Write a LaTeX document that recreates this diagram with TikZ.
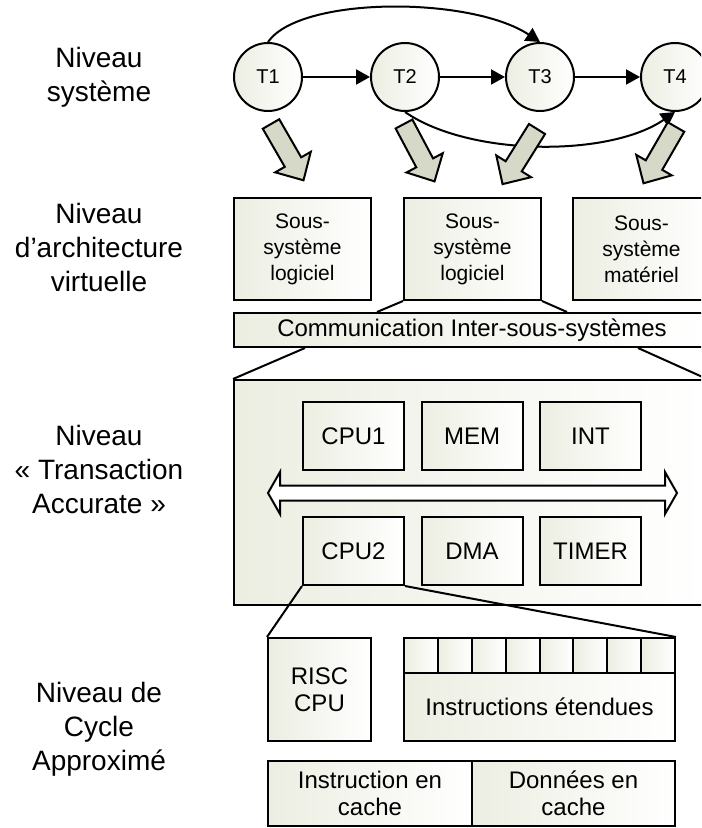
\documentclass[tikz,border=0pt]{standalone}
\usepackage{fontspec}
\setmainfont{Liberation Sans}
\usetikzlibrary{arrows.meta,positioning}

\definecolor{boxgreen}{RGB}{236,238,226}
\definecolor{arrowgray}{RGB}{214,217,199}

\tikzset{
    blk/.style={draw,line width=1pt,left color=boxgreen,right color=white,inner sep=0pt,align=center,font=\fontsize{12}{13.5}\selectfont},
    subsys/.style={blk,minimum width=68.5pt,minimum height=51pt,font=\fontsize{10.5}{13}\selectfont},
    comp/.style={blk,minimum width=50.5pt,minimum height=34pt},
    task/.style={circle,draw,line width=1pt,left color=boxgreen,right color=white,minimum size=34pt,inner sep=0pt,font=\fontsize{10}{12}\selectfont},
    lvl/.style={align=center,font=\fontsize{14}{17}\selectfont},
    conn/.style={line width=1pt,-{Triangle[length=7pt,width=7.5pt]}},
    bigarr/.style={draw,line width=1pt,fill=arrowgray,line join=miter},
}

% fat arrow: tail x, tail y, angle
\newcommand{\bigarrow}[3]{%
    \draw[bigarr,shift={(#1,#2)},rotate=#3] (0,-9.5) -- (44,-9.5) -- (44,-20.5) -- (65,0)
        -- (44,20.5) -- (44,9.5) -- (0,9.5) -- cycle;}

\begin{document}
\begin{tikzpicture}[x=0.5pt,y=-0.5pt]
    \useasboundingbox (0,0) rectangle (701,828);
    \clip (0,0) rectangle (701,828);

    % level names
    \node[lvl] (lv1) at (99,77) {Niveau\\système};
    \node[lvl] (lv2) at (99,247) {Niveau\\d’architecture\\virtuelle};
    \node[lvl] (lv3) at (99,469) {Niveau\\« Transaction\\Accurate »};
    \node[lvl] (lv4) at (99,729) {Niveau de\\Cycle\\Approximé};

    % system level
    \node[task] (T1) at (268,77) {T1};
    \node[task] (T2) at (405,77) {T2};
    \node[task] (T3) at (540,77) {T3};
    \node[task] (T4) at (675,77) {T4};

    \draw[conn] (T1) -- (T2);
    \draw[conn] (T2) -- (T3);
    \draw[conn] (T3) -- (T4);
    \draw[conn] (T1.north) .. controls (300,-4) and (470,-4) .. (T3.north);
    \draw[conn] (T2.south) .. controls (470,157) and (610,157) .. (T4.south);

    \bigarrow{271}{124}{-60}
    \bigarrow{404}{124}{-62}
    \bigarrow{537}{129}{-122}
    \bigarrow{676}{127}{-120}

    % virtual architecture level
    \node[subsys] (sysA) at (302.5,249) {Sous-\\système\\logiciel};
    \node[subsys] (sysB) at (472.5,249) {Sous-\\système\\logiciel};
    \node[subsys] (sysC) at (641.5,249) {Sous-\\système\\matériel};
    \node[blk,minimum width=238pt,minimum height=17pt] (comm) at (472,330) {Communication Inter-sous-systèmes};

    \draw[line width=1pt] (sysB.south west) -- (377,0 |- comm.north);
    \draw[line width=1pt] (sysB.south east) -- (567,0 |- comm.north);

    % transaction accurate level
    \node[blk,minimum width=236pt,minimum height=112.5pt] (ta) at (470,492.5) {};
    \draw[line width=1pt] (305,0 |- comm.south) -- (ta.north west);
    \draw[line width=1pt] (638,0 |- comm.south) -- (ta.north east);

    \node[comp] (cpu1) at (353.5,436) {CPU1};
    \node[comp] (mem) at (472,436) {MEM};
    \node[comp] (int) at (590.5,436) {INT};
    \node[comp] (cpu2) at (353.5,551) {CPU2};
    \node[comp] (dma) at (472,551) {DMA};
    \node[comp] (timer) at (590.5,551) {TIMER};

    \draw[line width=1pt,fill=white,line join=miter] (268,493) -- (280,472) -- (280,485.5) -- (665,485.5)
        -- (665,472) -- (677,493) -- (665,514) -- (665,500.5) -- (280,500.5) -- (280,514) -- cycle;

    % cycle approximate level
    \node[blk,minimum width=51.5pt,minimum height=51.5pt] (risc) at (319.5,689.5) {RISC\\CPU};
    \foreach \i in {1,...,8}
        \node[blk,minimum width=16.94pt,minimum height=17.5pt] (cell\i) at ({404+(\i-0.5)*33.875},655.5) {};
    \node[blk,minimum width=135.5pt,minimum height=34pt] (ext) at (539.5,707) {Instructions étendues};
    \node[blk,minimum width=102pt,minimum height=32.5pt] (icache) at (370,793.5) {Instruction en\\cache};
    \node[blk,minimum width=101.5pt,minimum height=32.5pt] (dcache) at (573.5,793.5) {Données en\\cache};

    \draw[line width=1pt] (cpu2.south west) -- (risc.north west);
    \draw[line width=1pt] (cpu2.south east) -- (cell8.north east);
\end{tikzpicture}
\end{document}
